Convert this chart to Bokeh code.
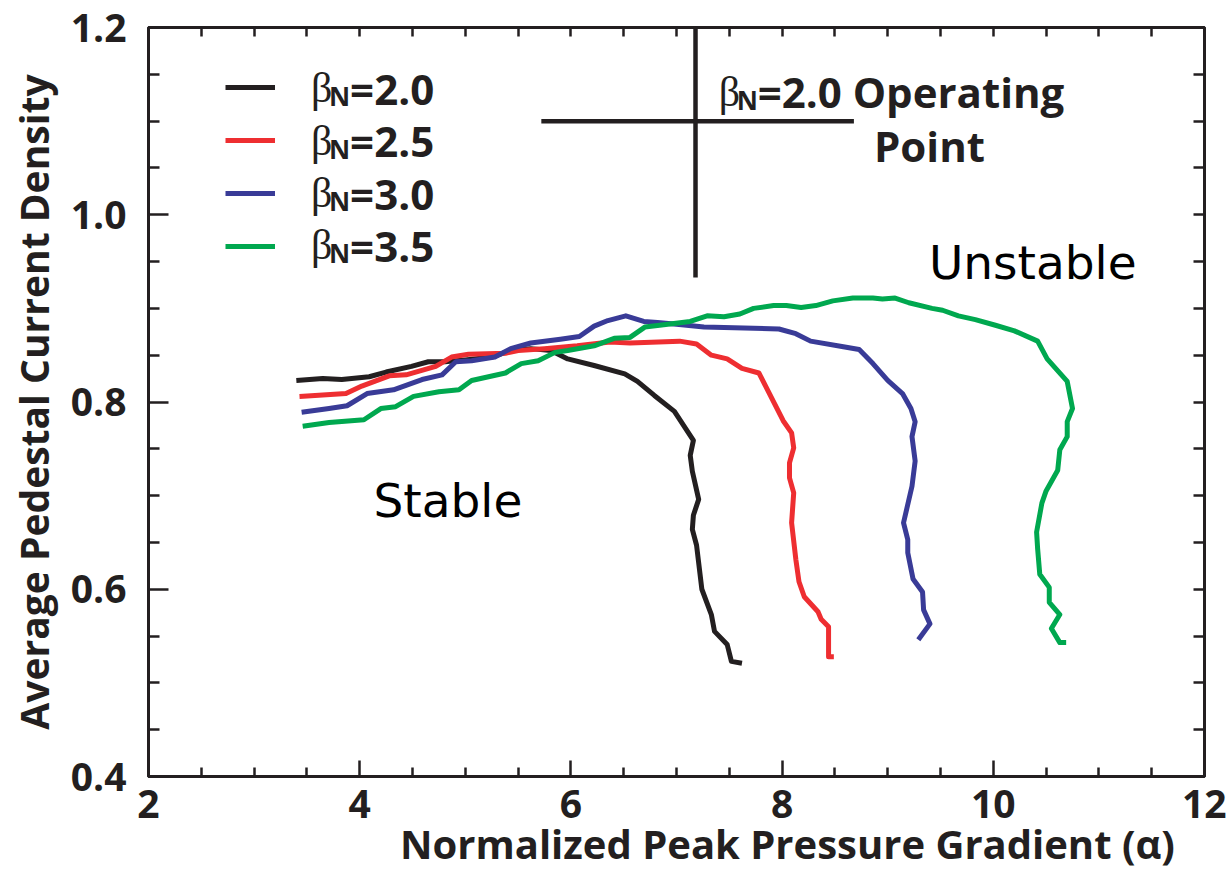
from bokeh.plotting import figure
from bokeh.models import (Range1d, LinearAxis, FixedTicker, Label, Legend, LegendItem,
                          PrintfTickFormatter, Div)
from bokeh.layouts import column
from bokeh.embed import file_html
from bokeh.resources import INLINE

# ---------------- data ----------------
alpha_b20 = [3.40, 3.65, 3.83, 4.09, 4.25, 4.49, 4.65, 4.81, 5.00, 5.25, 5.43, 5.62, 5.81, 5.97,
             6.22, 6.51, 6.63, 6.79, 6.98, 7.16, 7.13, 7.15, 7.21, 7.16, 7.15, 7.19, 7.24, 7.33,
             7.36, 7.48, 7.52, 7.62]
j_b20 = [0.823, 0.825, 0.824, 0.827, 0.832, 0.838, 0.843, 0.843, 0.845, 0.848, 0.855, 0.857, 0.855,
         0.846, 0.839, 0.830, 0.822, 0.807, 0.790, 0.759, 0.743, 0.726, 0.696, 0.679, 0.664, 0.647,
         0.600, 0.573, 0.555, 0.541, 0.523, 0.521]

alpha_b25 = [3.43, 3.87, 4.02, 4.28, 4.44, 4.72, 4.87, 5.03, 5.38, 5.50, 5.75, 6.06, 6.37, 6.56,
             7.03, 7.19, 7.33, 7.48, 7.62, 7.78, 7.88, 8.01, 8.09, 8.11, 8.07, 8.07, 8.11, 8.09,
             8.13, 8.16, 8.21, 8.34, 8.37, 8.44, 8.44, 8.49]
j_b25 = [0.806, 0.809, 0.817, 0.828, 0.829, 0.838, 0.848, 0.851, 0.852, 0.855, 0.857, 0.860, 0.864,
         0.863, 0.865, 0.862, 0.850, 0.846, 0.836, 0.831, 0.809, 0.780, 0.767, 0.751, 0.735, 0.719,
         0.703, 0.671, 0.632, 0.608, 0.592, 0.576, 0.568, 0.560, 0.528, 0.528]

alpha_b30 = [3.45, 3.71, 3.88, 4.07, 4.32, 4.59, 4.78, 4.91, 5.06, 5.28, 5.43, 5.62, 5.90, 6.08,
             6.22, 6.35, 6.52, 6.69, 6.82, 7.00, 7.26, 7.97, 8.13, 8.27, 8.58, 8.73, 8.86, 9.00,
             9.14, 9.22, 9.26, 9.23, 9.26, 9.23, 9.15, 9.19, 9.19, 9.24, 9.33, 9.34, 9.40, 9.29]
j_b30 = [0.789, 0.793, 0.796, 0.809, 0.813, 0.824, 0.829, 0.843, 0.844, 0.848, 0.857, 0.863, 0.867,
         0.870, 0.881, 0.887, 0.892, 0.886, 0.885, 0.883, 0.880, 0.878, 0.873, 0.865, 0.859, 0.856,
         0.841, 0.823, 0.809, 0.793, 0.779, 0.763, 0.737, 0.710, 0.671, 0.653, 0.639, 0.611, 0.597,
         0.578, 0.563, 0.546]

alpha_b35 = [3.46, 3.71, 4.04, 4.20, 4.34, 4.51, 4.75, 4.94, 5.06, 5.38, 5.53, 5.69, 5.85, 5.97,
             6.22, 6.41, 6.56, 6.70, 6.84, 7.13, 7.29, 7.45, 7.60, 7.73, 7.92, 8.04, 8.18, 8.32,
             8.48, 8.67, 8.86, 8.95, 9.07, 9.20, 9.42, 9.52, 9.67, 9.83, 10.02, 10.20, 10.42,
             10.51, 10.70, 10.75, 10.70, 10.70, 10.63, 10.61, 10.50, 10.46, 10.41, 10.42, 10.44,
             10.53, 10.53, 10.63, 10.55, 10.63, 10.69]
j_b35 = [0.774, 0.778, 0.781, 0.793, 0.795, 0.806, 0.811, 0.813, 0.823, 0.831, 0.841, 0.844, 0.853,
         0.855, 0.860, 0.868, 0.869, 0.880, 0.882, 0.886, 0.892, 0.891, 0.894, 0.900, 0.903, 0.903,
         0.901, 0.903, 0.908, 0.911, 0.911, 0.910, 0.911, 0.906, 0.900, 0.898, 0.892, 0.888, 0.882,
         0.876, 0.865, 0.846, 0.822, 0.793, 0.779, 0.763, 0.749, 0.727, 0.705, 0.692, 0.661, 0.643,
         0.616, 0.602, 0.586, 0.573, 0.558, 0.543, 0.543]

beta_labels = ["2.0", "2.5", "3.0", "3.5"]
series_colors = ["#231f20", "#ee2e31", "#393b97", "#00a84f"]

# operating point cross (beta_N = 2.0)
op_alpha = 7.18
op_j = 1.10
op_alpha_span = [5.72, 8.68]
op_j_span = [0.933, 1.2]

x_ticks = [2, 4, 6, 8, 10, 12]
x_minor = [2.5, 3, 3.5, 4.5, 5, 5.5, 6.5, 7, 7.5, 8.5, 9, 9.5, 10.5, 11, 11.5]
x_top_ticks = [2.5, 3, 3.5, 4, 4.5, 5, 5.5, 6, 6.5, 7, 7.5, 8, 8.5, 9, 9.5, 10, 10.5, 11, 11.5]
y_ticks = [0.4, 0.6, 0.8, 1.0, 1.2]
y_minor = [0.45, 0.5, 0.55, 0.65, 0.7, 0.75, 0.85, 0.9, 0.95, 1.05, 1.1, 1.15]
y_right_ticks = [0.45, 0.5, 0.55, 0.6, 0.65, 0.7, 0.75, 0.8, 0.85, 0.9, 0.95, 1.0, 1.05, 1.1, 1.15]

INK = "#231f20"
FONT = "Open Sans"
BASE_FIX = 17   # compensates the alphabetic-baseline shift of Label in the svg backend

p = figure(width=1226, height=846, output_backend="svg", toolbar_location=None,
           x_range=Range1d(2, 12), y_range=Range1d(0.4, 1.2),
           min_border_left=148, min_border_right=22, min_border_top=27, min_border_bottom=70,
           background_fill_color="white", border_fill_color="white")
p.grid.visible = False
p.outline_line_color = INK
p.outline_line_width = 3


def style_axis(ax, major_len, minor_len):
    ax.axis_line_width = 3
    ax.axis_line_color = INK
    ax.major_tick_in = major_len
    ax.major_tick_out = 0
    ax.minor_tick_in = minor_len
    ax.minor_tick_out = 0
    ax.major_tick_line_width = 2.5
    ax.minor_tick_line_width = 2.5
    ax.major_tick_line_color = INK
    ax.minor_tick_line_color = INK
    ax.major_label_text_font = FONT
    ax.major_label_text_font_style = "bold"
    ax.major_label_text_font_size = "39px"
    ax.major_label_text_color = INK


p.xaxis.ticker = FixedTicker(ticks=x_ticks, minor_ticks=x_minor)
p.yaxis.ticker = FixedTicker(ticks=y_ticks, minor_ticks=y_minor)
p.xaxis.formatter = PrintfTickFormatter(format="%d")
p.yaxis.formatter = PrintfTickFormatter(format="%.1f")
style_axis(p.xaxis[0], 16, 9)
style_axis(p.yaxis[0], 20, 11)
p.xaxis.major_label_standoff = 13
p.yaxis.major_label_standoff = 22
p.yaxis.axis_label = "Average Pedestal Current Density"
p.yaxis.axis_label_text_font = FONT
p.yaxis.axis_label_text_font_style = "bold"
p.yaxis.axis_label_text_font_size = "39px"
p.yaxis.axis_label_text_color = INK
p.yaxis.axis_label_standoff = 8

# box axes on top and right: ticks only (all short), no labels
top = LinearAxis(ticker=FixedTicker(ticks=[], minor_ticks=x_top_ticks))
style_axis(top, 9, 9)
p.add_layout(top, "above")
right = LinearAxis(ticker=FixedTicker(ticks=[], minor_ticks=y_right_ticks))
style_axis(right, 11, 11)
p.add_layout(right, "right")

# ---------------- curves ----------------
series = [(alpha_b20, j_b20), (alpha_b25, j_b25), (alpha_b30, j_b30), (alpha_b35, j_b35)]
renderers = []
for (xs, ys), c in zip(series, series_colors):
    r = p.line(xs, ys, line_color=c, line_width=5, line_join="round")
    renderers.append(r)

# operating point cross
p.line(op_alpha_span, [op_j, op_j], line_color=INK, line_width=4.5)
p.line([op_alpha, op_alpha], op_j_span, line_color=INK, line_width=4.5)

# legend glyphs (the sub-scripted texts are drawn as labels below)
legend = Legend(items=[LegendItem(label=" ", renderers=[r]) for r in renderers],
                location=(77, 520), glyph_width=50, glyph_height=20, label_height=20,
                spacing=33, padding=0, margin=0, border_line_color=None,
                background_fill_alpha=0, label_text_font_size="10px")
p.add_layout(legend, "center")


def bold_label(x, y, text, size="42px", x_offset=0, y_offset=0):
    p.add_layout(Label(x=x, y=y, x_offset=x_offset, y_offset=y_offset + BASE_FIX, text=text,
                       text_font=FONT, text_font_style="bold", text_font_size=size,
                       text_color=INK, text_baseline="alphabetic"))


def beta_label(x, y, rest):
    p.add_layout(Label(x=x, y=y, y_offset=BASE_FIX, text="β",
                       text_font="Liberation Serif", text_font_size="42px",
                       text_color=INK, text_baseline="alphabetic"))
    bold_label(x, y, "N", size="26px", x_offset=18, y_offset=-8)
    bold_label(x, y, rest, x_offset=39)


legend_text_x = 3.54
legend_baselines = [1.117, 1.061, 1.005, 0.949]
for lab, yb in zip(beta_labels, legend_baselines):
    beta_label(legend_text_x, yb, "=" + lab)

beta_label(7.40, 1.113, "=2.0 Operating")
bold_label(8.87, 1.056, "Point")

for txt, x, y in [("Stable", 4.13, 0.677), ("Unstable", 9.39, 0.931)]:
    p.add_layout(Label(x=x, y=y, y_offset=BASE_FIX, text=txt, text_font="DejaVu Sans",
                       text_font_size="47px", text_color="black", text_baseline="alphabetic"))

# x-axis title, right-shifted as in the reference
xtitle = Div(text="Normalized Peak Pressure Gradient (α)", width=800, height=42,
             margin=(-23, 0, 0, 400),
             styles={"font-family": "Open Sans", "font-weight": "bold", "font-size": "40px",
                     "line-height": "42px", "color": INK, "white-space": "nowrap"})

layout = column(p, xtitle, spacing=0)
open("out.html", "w").write(file_html(layout, INLINE))
